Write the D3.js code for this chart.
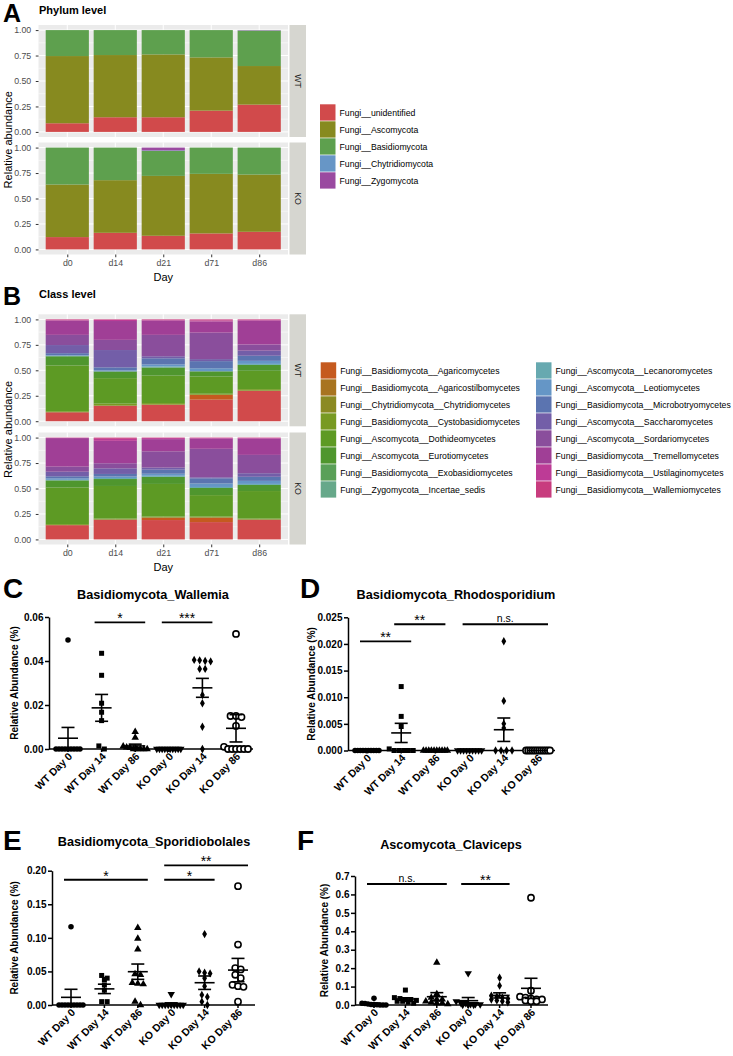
<!DOCTYPE html>
<html>
<style>
  body { margin: 0; background: #fff; }
  svg { font-family: "Liberation Sans", Arial, sans-serif; }
  .gg .tick text { fill: #4d4d4d; font-size: 8.8px; font-family: "Liberation Sans", Arial, sans-serif; }
  .gg .tick line { stroke: #333; }
  .pz .tick text { fill: #000; font-size: 10px; font-weight: bold; font-family: "Liberation Sans", Arial, sans-serif; }
  .pz .tick line, .pz .domain { stroke: #000; stroke-width: 1.5; }
</style>
<script src="https://d3js.org/d3.v7.min.js"></script>
<svg></svg>
<script>
// ---------- panels A / B (ggplot stacked bars) ----------
var days = ["d0", "d14", "d21", "d71", "d86"];
var facets = ["WT", "KO"];

var phyla = ["Fungi__unidentified", "Fungi__Ascomycota", "Fungi__Basidiomycota",
             "Fungi__Chytridiomycota", "Fungi__Zygomycota"];
var phylumColors = ["#d14a4b", "#878a1f", "#5ea04e", "#6796c6", "#9a4aa0"];
// one row per day, values in the order of phyla (bottom to top)
var phylumWT = [
  [0.085, 0.660, 0.255, 0, 0],
  [0.144, 0.611, 0.245, 0, 0],
  [0.144, 0.617, 0.239, 0, 0],
  [0.209, 0.523, 0.268, 0, 0],
  [0.268, 0.379, 0.348, 0.002, 0.003]
];
var phylumKO = [
  [0.121, 0.516, 0.363, 0, 0],
  [0.163, 0.517, 0.320, 0, 0],
  [0.134, 0.588, 0.245, 0.005, 0.028],
  [0.157, 0.585, 0.258, 0, 0],
  [0.173, 0.562, 0.265, 0, 0]
];

var classes = [
  "Fungi__Basidiomycota__Agaricomycetes", "Fungi__Basidiomycota__Agaricostilbomycetes",
  "Fungi__Chytridiomycota__Chytridiomycetes", "Fungi__Basidiomycota__Cystobasidiomycetes",
  "Fungi__Ascomycota__Dothideomycetes", "Fungi__Ascomycota__Eurotiomycetes",
  "Fungi__Basidiomycota__Exobasidiomycetes", "Fungi__Zygomycota__Incertae_sedis",
  "Fungi__Ascomycota__Lecanoromycetes", "Fungi__Ascomycota__Leotiomycetes",
  "Fungi__Basidiomycota__Microbotryomycetes", "Fungi__Ascomycota__Saccharomycetes",
  "Fungi__Ascomycota__Sordariomycetes", "Fungi__Basidiomycota__Tremellomycetes",
  "Fungi__Basidiomycota__Ustilaginomycetes", "Fungi__Basidiomycota__Wallemiomycetes"
];
var classColors = ["#c55a1f", "#a87420", "#8b8a22", "#789a22", "#5d9a24", "#4f962e",
                   "#5aa058", "#66a88a", "#67a9b0", "#6596c6", "#5b74b0", "#735ea8",
                   "#8a4e9c", "#a03f96", "#bd3b96", "#c83c7e"];
var unidentifiedColor = "#d14a4b";
// first value = unidentified, then the 16 classes in legend order
var classWT = [
  [0.088, 0, 0, 0, 0.010, 0.450, 0.090, 0, 0, 0.005, 0.005, 0.020, 0.080, 0.100, 0.140, 0.005, 0.007],
  [0.153, 0, 0, 0, 0.020, 0.250, 0.066, 0, 0, 0, 0.010, 0.030, 0.170, 0.100, 0.185, 0.010, 0.006],
  [0.163, 0, 0, 0, 0.015, 0.270, 0.080, 0, 0, 0.010, 0.020, 0.060, 0.020, 0.210, 0.140, 0.006, 0.006],
  [0.212, 0.048, 0, 0, 0.010, 0.170, 0.050, 0, 0, 0, 0.030, 0.070, 0.020, 0.260, 0.110, 0.010, 0.010],
  [0.300, 0, 0, 0, 0.015, 0.180, 0.058, 0, 0, 0.010, 0.030, 0.050, 0.050, 0.060, 0.235, 0.006, 0.006]
];
var classKO = [
  [0.140, 0, 0, 0, 0.010, 0.360, 0.070, 0, 0, 0.005, 0.015, 0.020, 0.045, 0.050, 0.280, 0.003, 0.002],
  [0.195, 0, 0, 0, 0.010, 0.320, 0.068, 0, 0, 0.010, 0.015, 0.025, 0.055, 0.050, 0.220, 0.020, 0.012],
  [0.190, 0.025, 0, 0, 0.010, 0.320, 0.070, 0, 0, 0.010, 0.020, 0.040, 0.020, 0.160, 0.120, 0.010, 0.005],
  [0.170, 0.045, 0, 0, 0.010, 0.210, 0.070, 0, 0, 0.010, 0.035, 0.050, 0.010, 0.280, 0.100, 0.006, 0.004],
  [0.195, 0, 0, 0, 0.010, 0.270, 0.060, 0, 0, 0.010, 0.030, 0.040, 0.035, 0.180, 0.160, 0.006, 0.004]
];
var stackTicks = [0, 0.25, 0.5, 0.75, 1];

// ---------- panels C-F (Prism dot plots) ----------
var groups = ["WT Day 0", "WT Day 14", "WT Day 86", "KO Day 0", "KO Day 14", "KO Day 86"];

var wallemiaPoints = [
  [0.0495, 0, 0, 0, 0, 0, 0, 0, 0, 0],
  [0.0435, 0.0335, 0.0208, 0.0167, 0.0129, 0.0014, 0],
  [0.0078, 0.0052, 0.0012, 0.0008, 0.0005, 0, 0, 0, 0, 0],
  [0, 0, 0, 0, 0, 0, 0, 0, 0, 0],
  [0.0405, 0.0403, 0.0400, 0.0398, 0.0364, 0.0364, 0.0245, 0.0208, 0.0101, 0],
  [0.0523, 0.0150, 0.0150, 0.0145, 0.0105, 0.001, 0, 0, 0, 0, 0, 0]
];
var wallemiaMean = [0.0049, 0.0187, 0.0014, 0, 0.0278, 0.0094];
var wallemiaSem = [0.0049, 0.0061, 0.0008, 0, 0.0043, 0.0062];
var wallemiaTicks = [0, 0.02, 0.04, 0.06];
var wallemiaSig = [[1, 2, 0.0576, "*"], [3, 4, 0.0576, "***"]];

var rhodoPoints = [
  [0, 0, 0, 0, 0, 0, 0, 0, 0, 0],
  [0.0120, 0.0064, 0.0045, 0.0003, 0, 0, 0, 0, 0],
  [0, 0, 0, 0, 0, 0, 0, 0, 0, 0],
  [0, 0, 0, 0, 0, 0, 0, 0, 0],
  [0.0205, 0.0093, 0.0050, 0.0042, 0, 0, 0, 0],
  [0, 0, 0, 0, 0, 0, 0, 0, 0, 0, 0, 0]
];
var rhodoMean = [0, 0.0033, 0, 0, 0.0039, 0];
var rhodoSem = [0, 0.0018, 0, 0, 0.0022, 0];
var rhodoTicks = [0, 0.005, 0.010, 0.015, 0.020, 0.025];
var rhodoSig = [[0, 1, 0.0205, "**"], [1, 2, 0.0237, "**"], [3, 5, 0.0237, "n.s."]];

var sporiPoints = [
  [0.1165, 0, 0, 0, 0, 0, 0, 0, 0, 0],
  [0.044, 0.040, 0.038, 0.030, 0.022, 0.005, 0.005],
  [0.115, 0.099, 0.083, 0.046, 0.045, 0.033, 0.032, 0.031, 0.005, 0],
  [0.016, 0, 0, 0, 0, 0, 0, 0, 0, 0],
  [0.1056, 0.050, 0.048, 0.047, 0.040, 0.028, 0.015, 0.012, 0.005, 0],
  [0.177, 0.090, 0.055, 0.053, 0.045, 0.040, 0.030, 0.028, 0.027, 0.005]
];
var sporiMean = [0.0114, 0.0240, 0.0496, 0.0016, 0.0332, 0.0520];
var sporiSem = [0.0120, 0.0070, 0.0114, 0.0016, 0.0100, 0.0174];
var sporiTicks = [0, 0.05, 0.10, 0.15, 0.20];
var sporiSig = [[0, 2, 0.1865, "*"], [3, 4, 0.1865, "*"], [3, 5, 0.2079, "**"]];

var clavPoints = [
  [0.036, 0.010, 0.008, 0.005, 0.003, 0.002, 0.001, 0, 0, 0],
  [0.081, 0.040, 0.035, 0.030, 0.030, 0.025, 0.020, 0.020, 0.015, 0.010],
  [0.230, 0.060, 0.040, 0.030, 0.030, 0.020, 0.015, 0.010, 0.010, 0.005],
  [0.172, 0.020, 0.010, 0.010, 0.005, 0.005, 0.003, 0, 0, 0],
  [0.148, 0.105, 0.050, 0.045, 0.040, 0.035, 0.030, 0.025, 0.020, 0.015],
  [0.582, 0.078, 0.045, 0.040, 0.035, 0.030, 0.030, 0.025, 0.020, 0.020]
];
var clavMean = [0.0068, 0.0326, 0.0450, 0.0235, 0.0520, 0.0905];
var clavSem = [0.0035, 0.0065, 0.0220, 0.0170, 0.0140, 0.0545];
var clavTicks = [0, 0.1, 0.2, 0.3, 0.4, 0.5, 0.6, 0.7];
var clavSig = [[0, 2, 0.6566, "n.s."], [3, 4, 0.6566, "**"]];

var svg = d3.select("svg").attr("width", 733).attr("height", 1056);

function stackPanel(o) {
  var g = svg.append("g").attr("class", "gg");
  var left = 38.5, right = 288, ph = 112;
  var x = d3.scalePoint().domain(days).range([left, right]).padding(0.6);
  var bw = x.step() * 0.9;

  g.append("text").attr("x", 3).attr("y", o.letterY)
      .attr("font-size", 25).attr("font-weight", "bold").text(o.letter);
  g.append("text").attr("x", 39).attr("y", o.titleY)
      .attr("font-size", 11).attr("font-weight", "bold").text(o.title);

  facets.forEach(function(f, fi) {
    var top = o.tops[fi];
    var y = d3.scaleLinear().domain([-0.05, 1.05]).range([top + ph, top]);

    g.append("rect").attr("x", left).attr("y", top)
        .attr("width", right - left).attr("height", ph).attr("fill", "#ebebeb");
    d3.range(4).forEach(function(i) {
      var v = 0.125 + i * 0.25;
      g.append("line").attr("x1", left).attr("x2", right)
          .attr("y1", y(v)).attr("y2", y(v)).attr("stroke", "#fff").attr("stroke-width", 0.5);
    });
    stackTicks.forEach(function(v) {
      g.append("line").attr("x1", left).attr("x2", right)
          .attr("y1", y(v)).attr("y2", y(v)).attr("stroke", "#fff").attr("stroke-width", 1);
    });
    days.forEach(function(d) {
      g.append("line").attr("x1", x(d)).attr("x2", x(d))
          .attr("y1", top).attr("y2", top + ph).attr("stroke", "#fff").attr("stroke-width", 1);
    });

    o.values[fi].forEach(function(row, di) {
      var cum = 0;
      row.forEach(function(v, k) {
        if (v <= 0) return;
        g.append("rect")
            .attr("x", x(days[di]) - bw / 2).attr("width", bw)
            .attr("y", y(cum + v)).attr("height", y(cum) - y(cum + v))
            .attr("fill", o.colors[k]);
        cum += v;
      });
    });

    g.append("g").attr("transform", "translate(" + left + ",0)")
        .call(d3.axisLeft(y).tickValues(stackTicks).tickFormat(d3.format(".2f"))
              .tickSize(2.75).tickPadding(4.5))
        .call(function(s) { s.select(".domain").remove(); });

    g.append("rect").attr("x", right + 1.5).attr("y", top)
        .attr("width", 16.5).attr("height", ph).attr("fill", "#d6d6d0");
    g.append("text")
        .attr("transform", "translate(" + (right + 9.75) + "," + (top + ph / 2) + ") rotate(90)")
        .attr("text-anchor", "middle").attr("dy", "0.35em")
        .attr("font-size", 8.8).attr("fill", "#1a1a1a").text(f);
  });

  var bottom = o.tops[1] + ph;
  g.append("g").attr("transform", "translate(0," + bottom + ")")
      .call(d3.axisBottom(x).tickSize(2.75).tickPadding(2.5))
      .call(function(s) { s.select(".domain").remove(); });
  g.append("text").attr("x", (left + right) / 2).attr("y", bottom + 26)
      .attr("text-anchor", "middle").attr("font-size", 11).text("Day");
  g.append("text")
      .attr("transform", "translate(12," + ((o.tops[0] + bottom) / 2) + ") rotate(-90)")
      .attr("text-anchor", "middle").attr("font-size", 11).text("Relative abundance");
}

function legend(x0, y0, names, colors, perCol, colGap) {
  var g = svg.append("g");
  names.forEach(function(n, i) {
    var c = Math.floor(i / perCol), r = i % perCol;
    var kx = x0 + c * colGap, ky = y0 + r * 17;
    g.append("rect").attr("x", kx).attr("y", ky).attr("width", 15.5).attr("height", 16.3)
        .attr("fill", colors[i]);
    g.append("text").attr("x", kx + 19.5).attr("y", ky + 11.3)
        .attr("font-size", 8.7).attr("fill", "#000").text(n);
  });
}

stackPanel({letter: "A", letterY: 22, title: "Phylum level", titleY: 14,
            tops: [25, 142.5], values: [phylumWT, phylumKO], colors: phylumColors});
legend(320, 104.3, phyla, phylumColors, 5, 0);

stackPanel({letter: "B", letterY: 305, title: "Class level", titleY: 298,
            tops: [314.3, 432.5], values: [classWT, classKO],
            colors: [unidentifiedColor].concat(classColors)});
legend(320.7, 362.3, classes, classColors, 8, 215.3);

// spread points with (nearly) the same value side by side, Prism style
function swarm(vals, y, cx) {
  var pts = vals.map(function(v) { return {v: v, py: y(v)}; })
      .sort(function(a, b) { return a.py - b.py; });
  var bins = [];
  pts.forEach(function(p) {
    var b = bins[bins.length - 1];
    if (b && p.py - b[0].py < 3.5) b.push(p); else bins.push([p]);
  });
  bins.forEach(function(b) {
    var n = b.length, sp = n > 1 ? Math.min(5.5, 24 / (n - 1)) : 0;
    b.forEach(function(p, i) { p.px = cx + (i - (n - 1) / 2) * sp; });
  });
  return pts;
}

var symTypes = [d3.symbolCircle, d3.symbolSquare, d3.symbolTriangle, d3.symbolTriangle, d3.symbolDiamond];
var symSizes = [24, 25, 24, 24, 20];

function marker(g, i, px, py) {
  if (i === 5) {
    g.append("circle").attr("cx", px).attr("cy", py).attr("r", 3.1)
        .attr("fill", "#fff").attr("stroke", "#000").attr("stroke-width", 1.6);
    return;
  }
  g.append("path").attr("d", d3.symbol().type(symTypes[i]).size(symSizes[i])())
      .attr("transform", "translate(" + px + "," + py + ")" + (i === 3 ? " rotate(180)" : ""))
      .attr("fill", "#000");
}

function prismPanel(o) {
  var g = svg.append("g").attr("class", "pz");
  var y = d3.scaleLinear().domain([0, o.ticks[o.ticks.length - 1]]).range([o.y0, o.y1]);
  var x = d3.scalePoint().domain(groups).range([o.x0 + 19, o.x1 - 17]);

  g.append("text").attr("x", o.lx).attr("y", o.ly)
      .attr("font-size", 28).attr("font-weight", "bold").text(o.letter);
  g.append("text").attr("x", o.tx).attr("y", o.ty).attr("text-anchor", "middle")
      .attr("font-size", 12.7).attr("font-weight", "bold").text(o.title);

  g.append("g").attr("transform", "translate(" + o.x0 + ",0)")
      .call(d3.axisLeft(y).tickValues(o.ticks).tickFormat(d3.format(o.fmt))
            .tickSize(4).tickSizeOuter(0).tickPadding(1.5));
  g.append("text")
      .attr("transform", "translate(" + o.ylx + "," + ((o.y0 + o.y1) / 2) + ") rotate(-90)")
      .attr("text-anchor", "middle").attr("font-size", 10).attr("font-weight", "bold")
      .text("Relative Abundance (%)");

  g.append("line").attr("x1", o.x0).attr("x2", o.x1).attr("y1", o.y0).attr("y2", o.y0)
      .attr("stroke", "#000").attr("stroke-width", 1.5);

  groups.forEach(function(name, i) {
    var cx = x(name);
    g.append("line").attr("x1", cx).attr("x2", cx).attr("y1", o.y0).attr("y2", o.y0 + 3)
        .attr("stroke", "#000").attr("stroke-width", 1.5);
    g.append("text")
        .attr("transform", "translate(" + (cx + 5) + "," + (o.y0 + 8) + ") rotate(-45)")
        .attr("text-anchor", "end").attr("font-size", 10.5).attr("font-weight", "bold")
        .text(name);

    swarm(o.points[i], y, cx).forEach(function(p) { marker(g, i, p.px, p.py); });

    var m = y(o.mean[i]);
    g.append("line").attr("x1", cx - 10).attr("x2", cx + 10).attr("y1", m).attr("y2", m)
        .attr("stroke", "#000").attr("stroke-width", 1.6);
    if (o.sem[i] > 0) {
      var hi = y(o.mean[i] + o.sem[i]), lo = y(Math.max(0, o.mean[i] - o.sem[i]));
      g.append("line").attr("x1", cx).attr("x2", cx).attr("y1", hi).attr("y2", lo)
          .attr("stroke", "#000").attr("stroke-width", 1.6);
      [hi, lo].forEach(function(yy) {
        g.append("line").attr("x1", cx - 6.5).attr("x2", cx + 6.5).attr("y1", yy).attr("y2", yy)
            .attr("stroke", "#000").attr("stroke-width", 1.6);
      });
    }
  });

  o.sig.forEach(function(s) {
    var xa = x(groups[s[0]]) - 7, xb = x(groups[s[1]]) + 10, yy = y(s[2]);
    var ns = s[3] === "n.s.";
    g.append("line").attr("x1", xa).attr("x2", xb).attr("y1", yy).attr("y2", yy)
        .attr("stroke", "#000").attr("stroke-width", 1.8);
    g.append("text").attr("x", (xa + xb) / 2).attr("y", ns ? yy - 2 : yy + 1)
        .attr("text-anchor", "middle").attr("font-size", ns ? 10.5 : 14)
        .attr("fill", "#000").text(s[3]);
  });
}

prismPanel({letter: "C", lx: 3, ly: 598, title: "Basidiomycota_Wallemia", tx: 153, ty: 599,
            x0: 49, x1: 253, y0: 749, y1: 617, ylx: 18, fmt: ".2f", ticks: wallemiaTicks,
            points: wallemiaPoints, mean: wallemiaMean, sem: wallemiaSem, sig: wallemiaSig});
prismPanel({letter: "D", lx: 300, ly: 598, title: "Basidiomycota_Rhodosporidium", tx: 456, ty: 599,
            x0: 348, x1: 555, y0: 750.5, y1: 617.3, ylx: 315, fmt: ".3f", ticks: rhodoTicks,
            points: rhodoPoints, mean: rhodoMean, sem: rhodoSem, sig: rhodoSig});
prismPanel({letter: "E", lx: 3, ly: 850, title: "Basidiomycota_Sporidiobolales", tx: 154, ty: 846,
            x0: 52, x1: 255, y0: 1005, y1: 870.7, ylx: 18, fmt: ".2f", ticks: sporiTicks,
            points: sporiPoints, mean: sporiMean, sem: sporiSem, sig: sporiSig});
prismPanel({letter: "F", lx: 297, ly: 850, title: "Ascomycota_Claviceps", tx: 451, ty: 849,
            x0: 355, x1: 548, y0: 1005, y1: 876, ylx: 328, fmt: ".1f", ticks: clavTicks,
            points: clavPoints, mean: clavMean, sem: clavSem, sig: clavSig});
</script>
</html>
